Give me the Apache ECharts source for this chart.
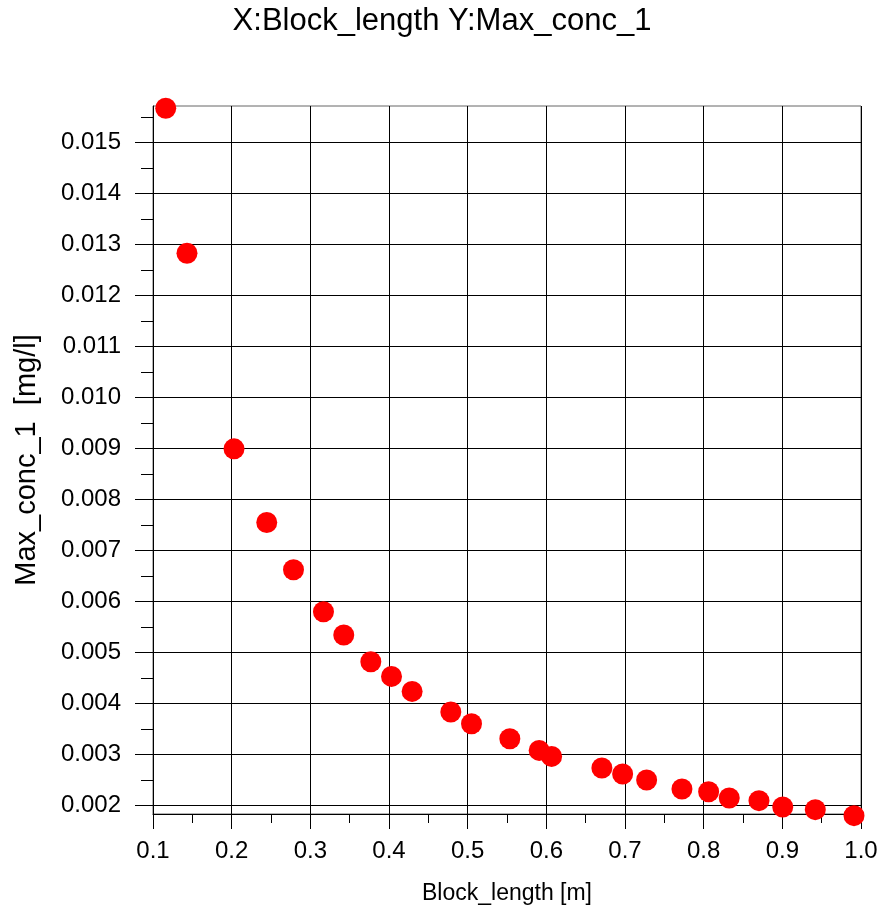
<!DOCTYPE html>
<html>
<head>
<meta charset="utf-8">
<script src="https://cdn.jsdelivr.net/npm/echarts@6/dist/echarts.min.js"></script>
<style>
html,body{margin:0;padding:0;background:#fff;}
#chart{width:884px;height:912px;}
</style>
</head>
<body>
<div id="chart"></div>
<script>
// Data
const blockLength = [0.1162, 0.1432, 0.2030, 0.2446, 0.2786, 0.3167, 0.3425, 0.3769, 0.4032, 0.4294,
  0.4786, 0.5049, 0.5536, 0.5909, 0.6067, 0.6706, 0.6970, 0.7275, 0.7724, 0.8063,
  0.8325, 0.8703, 0.9005, 0.9419, 0.9911];
const maxConc1 = [0.015667, 0.012827, 0.008993, 0.007549, 0.006623, 0.005800, 0.005344, 0.004821, 0.004533, 0.004239,
  0.003835, 0.003606, 0.003312, 0.003083, 0.002966, 0.002738, 0.002621, 0.002503, 0.002327, 0.002274,
  0.002151, 0.002098, 0.001975, 0.001922, 0.001804];

// Axis ticks
const xTicks = [0.1, 0.2, 0.3, 0.4, 0.5, 0.6, 0.7, 0.8, 0.9, 1.0];
const xMinorTicks = [0.15, 0.25, 0.35, 0.45, 0.55, 0.65, 0.75, 0.85, 0.95];
const yTicks = [0.002, 0.003, 0.004, 0.005, 0.006, 0.007, 0.008, 0.009, 0.010, 0.011, 0.012, 0.013, 0.014, 0.015];
const yMinorTicks = [0.0025, 0.0035, 0.0045, 0.0055, 0.0065, 0.0075, 0.0085, 0.0095, 0.0105, 0.0115, 0.0125, 0.0135, 0.0145, 0.0155];
const xRange = [0.1, 1.0];
const yRange = [0.001837, 0.015712];

const titleText = 'X:Block_length Y:Max_conc_1';
const xName = 'Block_length [m]';
const yName = 'Max_conc_1  [mg/l]';

const font = "'Liberation Sans', Arial, sans-serif";

const chart = echarts.init(document.getElementById('chart'), null, {renderer: 'canvas'});
const points = blockLength.map((x, i) => [x, maxConc1[i]]);

chart.setOption({
  animation: false,
  backgroundColor: '#fff',
  title: {
    text: titleText,
    left: 'center',
    top: 6,
    padding: 0,
    textStyle: {fontFamily: font, fontSize: 31, fontWeight: 'normal', color: '#000'}
  },
  grid: {
    left: 153, top: 106, right: 23, bottom: 98,
    show: true, borderColor: '#666', borderWidth: 1, backgroundColor: 'transparent'
  },
  xAxis: [{
    type: 'value', min: xRange[0], max: xRange[1],
    name: xName, nameLocation: 'middle', nameGap: 68,
    nameTextStyle: {fontFamily: font, fontSize: 23, color: '#000'},
    axisLine: {show: true, lineStyle: {color: '#000', width: 1}},
    axisTick: {show: true, customValues: xTicks, length: 15, inside: false, lineStyle: {color: '#000'}},
    axisLabel: {customValues: xTicks, margin: 25, fontFamily: font, fontSize: 24, color: '#000',
      formatter: v => v.toFixed(1)},
    splitLine: {show: true, lineStyle: {color: '#000', width: 1}}
  }, {
    type: 'value', min: xRange[0], max: xRange[1], position: 'bottom',
    axisLine: {show: false},
    axisTick: {show: true, customValues: xMinorTicks, length: 9, lineStyle: {color: '#000'}},
    axisLabel: {show: false},
    splitLine: {show: false}
  }],
  yAxis: [{
    type: 'value', min: yRange[0], max: yRange[1],
    name: yName, nameLocation: 'middle', nameGap: 112, nameRotate: 90,
    nameTextStyle: {fontFamily: font, fontSize: 29, color: '#000'},
    axisLine: {show: true, lineStyle: {color: '#000', width: 1}},
    axisTick: {show: true, customValues: yTicks, length: 18, lineStyle: {color: '#000'}},
    axisLabel: {customValues: yTicks, margin: 32, fontFamily: font, fontSize: 24, color: '#000',
      formatter: v => v.toFixed(3)},
    splitLine: {show: true, lineStyle: {color: '#000', width: 1}}
  }, {
    type: 'value', min: yRange[0], max: yRange[1], position: 'left',
    axisLine: {show: false},
    axisTick: {show: true, customValues: yMinorTicks, length: 12, lineStyle: {color: '#000'}},
    axisLabel: {show: false},
    splitLine: {show: false}
  }],
  series: [{
    type: 'scatter',
    xAxisIndex: 0, yAxisIndex: 0,
    data: points,
    symbol: 'circle',
    symbolSize: 21,
    clip: false,
    itemStyle: {color: '#ff0000', opacity: 1},
    emphasis: {disabled: true}
  }]
});
</script>
</body>
</html>
